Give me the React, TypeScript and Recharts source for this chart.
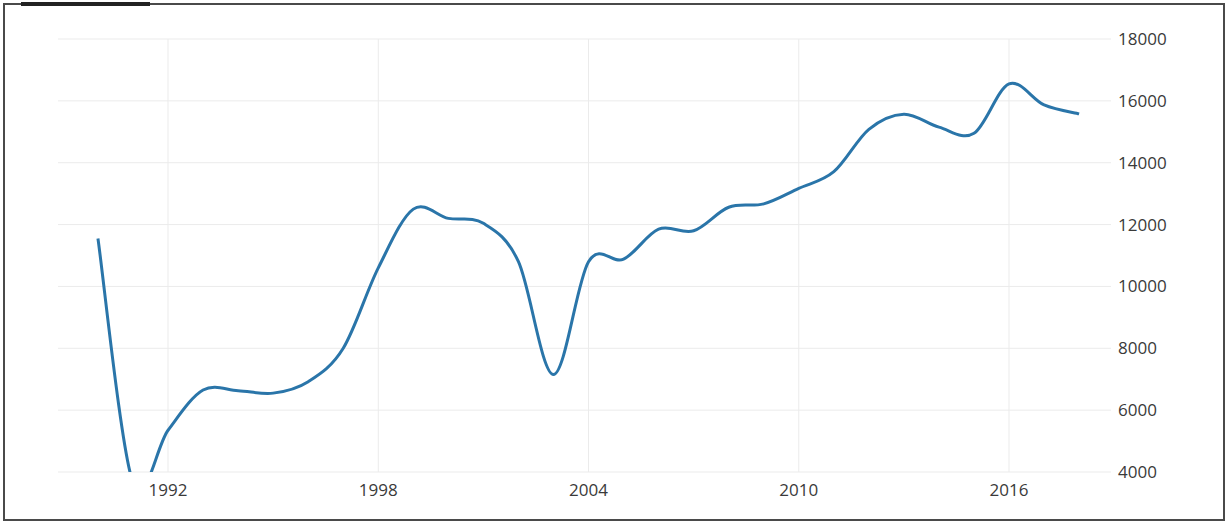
import { LineChart, Line, XAxis, YAxis, CartesianGrid } from 'recharts';

const years = [
  1990, 1991, 1992, 1993, 1994, 1995, 1996, 1997, 1998, 1999, 2000, 2001, 2002, 2003, 2004,
  2005, 2006, 2007, 2008, 2009, 2010, 2011, 2012, 2013, 2014, 2015, 2016, 2017, 2018,
];
const values = [
  11550, 3650, 5350, 6650, 6630, 6550, 6920, 8000, 10600, 12500, 12200, 12040, 10800, 7150, 10800,
  10880, 11850, 11800, 12560, 12670, 13170, 13710, 15080, 15570, 15150, 14950, 16550, 15870, 15580,
];
const xTicks = [1992, 1998, 2004, 2010, 2016];
const yTicks = [4000, 6000, 8000, 10000, 12000, 14000, 16000, 18000];

const data = years.map((year, i) => ({ year, value: values[i] }));

const tickStyle = { fill: '#3a3a3a', fontSize: 17, fontFamily: '"Open Sans", sans-serif' };

// smooth spline through every point (cardinal, tension 0)
const spline = (ctx: any) => {
  let pts: number[][] = [];
  return {
    areaStart() {},
    areaEnd() {},
    lineStart() {
      pts = [];
    },
    point(x: number, y: number) {
      pts.push([x, y]);
    },
    lineEnd() {
      if (!pts.length) return;
      ctx.moveTo(pts[0][0], pts[0][1]);
      for (let i = 0; i < pts.length - 1; i++) {
        const p0 = pts[i - 1] || pts[i];
        const p1 = pts[i];
        const p2 = pts[i + 1];
        const p3 = pts[i + 2] || p2;
        ctx.bezierCurveTo(
          p1[0] + (p2[0] - p0[0]) / 6,
          p1[1] + (p2[1] - p0[1]) / 6,
          p2[0] - (p3[0] - p1[0]) / 6,
          p2[1] - (p3[1] - p1[1]) / 6,
          p2[0],
          p2[1],
        );
      }
    },
  };
};

export default function App() {
  return (
    <div style={{ position: 'relative', width: 1229, height: 523, background: '#fff' }}>
      <style>{`body{margin:0}`}</style>
      <LineChart width={1229} height={523} data={data} margin={{ top: 39, right: 0, bottom: 0, left: 58 }}>
        <CartesianGrid stroke="#ebebeb" strokeWidth={1} verticalValues={xTicks} />
        <XAxis
          dataKey="year"
          type="number"
          domain={[1988.86, 2018.91]}
          allowDataOverflow
          ticks={xTicks}
          axisLine={false}
          tickLine={false}
          tickSize={0}
          tickMargin={12}
          height={51}
          tick={tickStyle}
        />
        <YAxis
          orientation="right"
          domain={[4000, 18000]}
          allowDataOverflow
          ticks={yTicks}
          axisLine={false}
          tickLine={false}
          tickSize={0}
          tickMargin={7}
          width={118}
          tick={tickStyle}
        />
        <Line
          type={spline as any}
          dataKey="value"
          stroke="#2a75a9"
          strokeWidth={3}
          dot={false}
          activeDot={false}
          isAnimationActive={false}
        />
      </LineChart>
      <div
        style={{
          position: 'absolute',
          left: 3,
          top: 3,
          width: 1222,
          height: 518,
          border: '2px solid #4a4a4a',
          boxSizing: 'border-box',
          pointerEvents: 'none',
        }}
      />
      <div style={{ position: 'absolute', left: 21, top: 2, width: 129, height: 4, background: '#222' }} />
    </div>
  );
}
